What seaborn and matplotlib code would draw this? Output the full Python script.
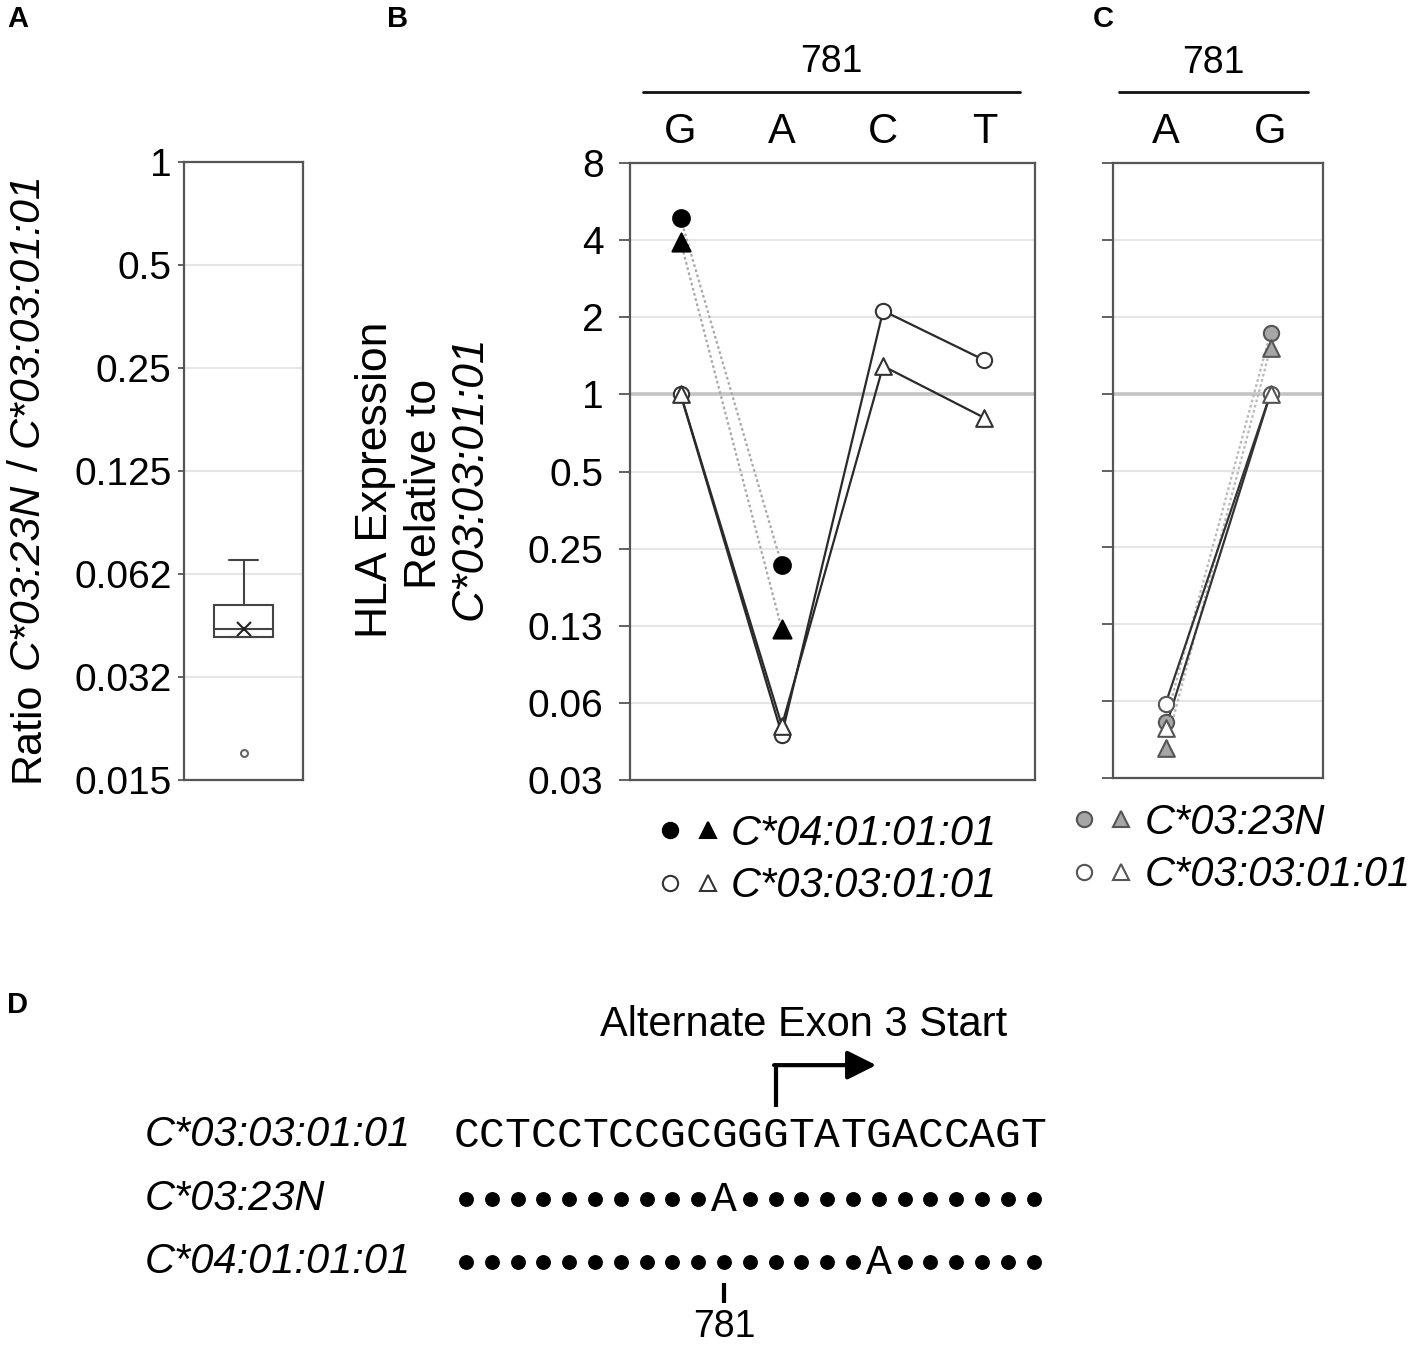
import numpy as np
import pandas as pd
import matplotlib
matplotlib.use('Agg')
import matplotlib.pyplot as plt
from matplotlib.lines import Line2D
from matplotlib.ticker import NullLocator
from matplotlib.transforms import IdentityTransform
from matplotlib.legend_handler import HandlerTuple
import seaborn as sns

# ---- data -------------------------------------------------------------
# A: ratio C*03:23N / C*03:03:01:01
ratios = [0.0187, 0.0409, 0.0409, 0.0416, 0.0432, 0.0466, 0.0507, 0.0560, 0.0686]
a_ticks = [1, 0.5, 0.25, 0.125, 0.0625, 0.03125, 0.015625]
a_ticklabels = ['1', '0.5', '0.25', '0.125', '0.062', '0.032', '0.015']

# B: expression relative to C*03:03:01:01, position 781 = G/A/C/T
b_bases = ['G', 'A', 'C', 'T']
b_c04_circle = [4.87, 0.215]       # only G, A
b_c04_tri = [3.95, 0.121]
b_c03_circle = [1.0, 0.047, 2.12, 1.36]
b_c03_tri = [1.0, 0.051, 1.29, 0.81]
b_ticks = [8, 4, 2, 1, 0.5, 0.25, 0.125, 0.0625, 0.03125]
b_ticklabels = ['8', '4', '2', '1', '0.5', '0.25', '0.13', '0.06', '0.03']

# C: position 781 = A/G
c_bases = ['A', 'G']
c_c0323_circle = [0.052, 1.73]
c_c0323_tri = [0.041, 1.51]
c_c03_circle = [0.061, 1.0]
c_c03_tri = [0.049, 1.0]

# D: sequence alignment
seq_names = ['C*03:03:01:01', 'C*03:23N', 'C*04:01:01:01']
seq_rows = ['CCTCCTCCGCGGGTATGACCAGT',
            '..........A............',
            '................A......']
pos781 = 10
exon_start = 12

# ---- style ------------------------------------------------------------
sns.set_style('white')
plt.rcParams['font.family'] = ['Liberation Sans', 'DejaVu Sans']
plt.rcParams['text.color'] = 'black'

W, H = 1417, 1346
fig = plt.figure(figsize=(W / 100, H / 100), dpi=100)

def box(x0, y0, x1, y1):
    return [x0 / W, 1 - y1 / H, (x1 - x0) / W, (y1 - y0) / H]

def px(x, y):
    return x / W, 1 - y / H

SPINE = '#555555'
GRID = '#e6e6e6'
ONE = '#c4c4c4'

def frame(ax, ticklen, pad):
    for s in ax.spines.values():
        s.set_color(SPINE)
        s.set_linewidth(1.6)
    ax.tick_params(axis='y', left=True, length=ticklen, width=1.3, color=SPINE,
                   labelsize=28, pad=pad, labelcolor='black')
    ax.yaxis.set_minor_locator(NullLocator())

# ---- A ----------------------------------------------------------------
ax_a = fig.add_axes(box(184, 162, 303, 780))
ax_a.set_yscale('log', base=2)
sns.boxplot(y=ratios, ax=ax_a, width=0.49, color='white', linecolor='#444444',
            linewidth=1.5, showmeans=True,
            meanprops=dict(marker='x', markeredgecolor='#222222', markersize=10,
                           markeredgewidth=1.5),
            flierprops=dict(marker='o', markersize=5, markerfacecolor='white',
                            markeredgecolor='#666666', markeredgewidth=1.5))
ax_a.set_ylim(a_ticks[-1], a_ticks[0])
ax_a.set_yticks(a_ticks, a_ticklabels)
ax_a.set_xlim(-0.5, 0.5)
ax_a.set_xticks([])
ax_a.yaxis.grid(True, color=GRID, lw=1.5)
ax_a.set_axisbelow(True)
ax_a.set_ylabel('')
frame(ax_a, 4, 5)

# ---- B and C ----------------------------------------------------------
MS = 12

def series(ax, vals, marker, face, edge, line, ls, ms=MS):
    xs = np.arange(len(vals))
    sns.lineplot(x=xs, y=vals, ax=ax, color=line, linestyle=ls, lw=1.6,
                 sort=False, zorder=2)
    sns.scatterplot(x=xs, y=vals, ax=ax, marker=marker, s=ms ** 2,
                    color=face, edgecolor=edge, linewidth=1.5, zorder=3)

def setup_lr(ax, bases, labels_on):
    ax.set_yscale('log', base=2)
    ax.set_ylim(b_ticks[-1], b_ticks[0])
    ax.set_yticks(b_ticks, b_ticklabels if labels_on else [])
    ax.set_xlim(-0.5, len(bases) - 0.5)
    ax.xaxis.set_ticks_position('top')
    ax.set_xticks(range(len(bases)), bases)
    ax.tick_params(axis='x', length=0, pad=8, labelsize=30, labelcolor='black')
    ax.yaxis.grid(True, color=GRID, lw=1.5)
    ax.axhline(1, color=ONE, lw=2.6, zorder=1)
    ax.set_axisbelow(True)
    ax.set_xlabel('')
    ax.set_ylabel('')
    frame(ax, 8, 11)

ax_b = fig.add_axes(box(630, 163, 1035, 780))
setup_lr(ax_b, b_bases, True)
series(ax_b, b_c04_circle, 'o', 'black', 'black', '#a8a8a8', (0, (1.2, 1.2)))
series(ax_b, b_c04_tri, '^', 'black', 'black', '#a8a8a8', (0, (1.2, 1.2)), 13)
series(ax_b, b_c03_circle, 'o', 'white', '#333333', '#2a2a2a', '-', 11)
series(ax_b, b_c03_tri, '^', 'white', '#333333', '#2a2a2a', '-', 12)

ax_c = fig.add_axes(box(1113, 163, 1323, 778))
setup_lr(ax_c, c_bases, False)
series(ax_c, c_c0323_circle, 'o', '#a6a6a6', '#555555', '#b8b8b8', (0, (1.2, 1.2)), 11)
series(ax_c, c_c0323_tri, '^', '#a6a6a6', '#555555', '#b8b8b8', (0, (1.2, 1.2)), 12)
series(ax_c, c_c03_circle, 'o', 'white', '#555555', '#333333', '-', 11)
series(ax_c, c_c03_tri, '^', 'white', '#555555', '#333333', '-', 12)

# "781" bracket above the base labels
for ax, x0, x1 in [(ax_b, 0.032, 0.963), (ax_c, 0.03, 0.93)]:
    ax.add_line(Line2D([x0, x1], [1.115, 1.115], transform=ax.transAxes,
                       clip_on=False, color='#111111', lw=2))
    ax.text((x0 + x1) / 2, 1.163, '781', transform=ax.transAxes,
            ha='center', va='center', fontsize=27)

# legends
def legend(ax, faces, edges, labels, anchor):
    handles = []
    for fc, ec in zip(faces, edges):
        handles.append((Line2D([], [], ls='none', marker='o', ms=11, mfc=fc, mec=ec, mew=1.5),
                        Line2D([], [], ls='none', marker='^', ms=11, mfc=fc, mec=ec, mew=1.5)))
    ax.legend(handles, labels, handler_map={tuple: HandlerTuple(ndivide=None, pad=0.5)},
              loc='upper left', bbox_to_anchor=anchor, frameon=False,
              prop={'style': 'italic', 'size': 30}, handlelength=1.3,
              handletextpad=0.36, labelspacing=0.3, borderpad=0, borderaxespad=0)

legend(ax_b, ['black', 'white'], ['black', '#333333'],
       ['C*04:01:01:01', 'C*03:03:01:01'], (0.079, -0.055))
legend(ax_c, ['#a6a6a6', 'white'], ['#555555', '#555555'],
       ['C*03:23N', 'C*03:03:01:01'], (-0.18, -0.04))

# ---- y labels ---------------------------------------------------------
renderer = fig.canvas.get_renderer()

def vertical_rich(xpix, ypix, parts, size):
    texts = [fig.text(0, 0, s, rotation=90, fontsize=size, style=st,
                      ha='center', va='bottom', transform=IdentityTransform())
             for s, st in parts]
    heights = [t.get_window_extent(renderer).height for t in texts]
    gap = 0.28 * size * 100 / 72
    total = sum(heights) + gap * (len(texts) - 1)
    y = (H - ypix) - total / 2
    for t, h in zip(texts, heights):
        t.set_position((xpix, y))
        y += h + gap

vertical_rich(27, 477, [('Ratio', 'normal'), ('C*03:23N', 'italic'), ('/', 'normal'),
                        ('C*03:03:01:01', 'italic')], 31)

fig.text(*px(375, 480), 'HLA Expression', rotation=90, fontsize=32, ha='center', va='center')
fig.text(*px(425, 484), 'Relative to', rotation=90, fontsize=32, ha='center', va='center')
fig.text(*px(470, 478), 'C*03:03:01:01', rotation=90, fontsize=32, style='italic',
         ha='center', va='center')

# panel letters
for letter, x, y in [('A', 7, 5), ('B', 387, 5), ('C', 1093, 5), ('D', 7, 991)]:
    fig.text(*px(x, y), letter, fontsize=21, fontweight='bold', ha='left', va='top')

# ---- D ----------------------------------------------------------------
pitch, x0px, row0px, rowgap = 25.8, 466, 1135, 63.5
ax_d = fig.add_axes(box(0, 980, W, H))
ax_d.set_xlim(-x0px / pitch, (W - x0px) / pitch)
ax_d.set_ylim((H - row0px) / rowgap, (980 - row0px) / rowgap)
ax_d.axis('off')

for r, (name, row) in enumerate(zip(seq_names, seq_rows)):
    ax_d.text((145 - x0px) / pitch, r, name, style='italic', fontsize=30,
              ha='left', va='center')
    dots = [i for i, ch in enumerate(row) if ch == '.']
    sns.scatterplot(x=dots, y=[r] * len(dots), ax=ax_d, s=115, color='black',
                    edgecolor='black', linewidth=0)
    for i, ch in enumerate(row):
        if ch != '.':
            ax_d.text(i, r + 0.02, ch, family='Liberation Mono', fontsize=31,
                      ha='center', va='center')

# alternate exon 3 start arrow
ax_d.plot([exon_start, exon_start], [-0.44, -1.10], color='black', lw=3,
          solid_capstyle='butt')
ax_d.annotate('', xy=(exon_start + 3.9, -1.10), xytext=(exon_start - 0.06, -1.10),
              arrowprops=dict(arrowstyle='-|>', mutation_scale=44, lw=3,
                              color='black', shrinkA=0, shrinkB=0))
ax_d.text(exon_start + 1.1, -1.73, 'Alternate Exon 3 Start', fontsize=30,
          ha='center', va='center')

# 781 marker
ax_d.plot([pos781, pos781], [2.33, 2.65], color='black', lw=3, solid_capstyle='butt')
ax_d.text(pos781, 3.02, '781', fontsize=27, ha='center', va='center')

fig.savefig('out.png', dpi=100)
